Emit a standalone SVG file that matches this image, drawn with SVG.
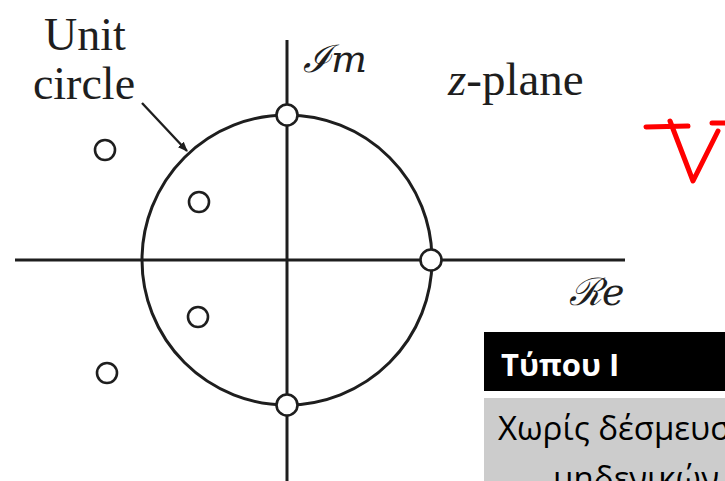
<svg xmlns="http://www.w3.org/2000/svg" width="725" height="481" viewBox="0 0 725 481">
<style>
.ln{stroke:#1e1e1e;stroke-width:3;fill:none}
.z{stroke:#1e1e1e;stroke-width:2.6;fill:#fff}
.lbl{font-family:"Liberation Serif","Times New Roman",serif;fill:#1e1e1e}
.scr{font-family:"DejaVu Serif","Liberation Serif",serif;font-style:italic;fill:#1e1e1e}
.red{stroke:#ff0000;stroke-width:5;fill:none;stroke-linecap:round;stroke-linejoin:round}
.gr{font-family:"Open Sans","Noto Sans",sans-serif}
</style>
<defs>
<marker id="ah" markerWidth="10" markerHeight="10" refX="9" refY="5" orient="auto" markerUnits="userSpaceOnUse" viewBox="0 0 10 10">
<path d="M0,1 L10,5 L0,9 Z" fill="#1e1e1e"/>
</marker>
</defs>
<rect width="725" height="481" fill="#fff"/>
<g id="axes">
<line class="ln" x1="15" y1="260" x2="625" y2="260"/>
<line class="ln" x1="287" y1="40" x2="287" y2="481"/>
</g>
<g id="unit-circle">
<circle class="ln" cx="287" cy="260" r="145" stroke-width="2.6"/>
</g>
<g id="connectors">
<line x1="142" y1="103" x2="187" y2="151" stroke="#1e1e1e" stroke-width="2.4" marker-end="url(#ah)"/>
</g>
<g id="zeros">
<circle class="z" cx="287" cy="115" r="10.5"/>
<circle class="z" cx="287" cy="405" r="10.5"/>
<circle class="z" cx="431" cy="260" r="10.5"/>
<circle class="z" cx="199" cy="202" r="10"/>
<circle class="z" cx="198" cy="317" r="10"/>
<circle class="z" cx="105" cy="150" r="10"/>
<circle class="z" cx="107" cy="373" r="10"/>
</g>
<g id="labels">
<text class="lbl" x="85" y="50" font-size="46" text-anchor="middle">Unit</text>
<text class="lbl" x="84" y="99" font-size="46" text-anchor="middle">circle</text>
<text class="lbl" x="448" y="95" font-size="47"><tspan font-style="italic">z</tspan>-plane</text>
<text class="scr" x="303" y="72" font-size="38">ℐm</text>
<text class="scr" x="569" y="305" font-size="38">ℛe</text>
</g>
<g id="red-mark">
<path class="red" d="M646,127 L688,126"/>
<path class="red" d="M670,121 L693,181 L718,131"/>
<path class="red" d="M712,123 L725,123"/>
</g>
<g id="type-box">
<rect x="484" y="332" width="241" height="59" fill="#000"/>
<text class="gr" x="501" y="376" font-weight="bold" font-size="31" fill="#fff">Τύπου I</text>
</g>
<g id="desc-box">
<rect x="484" y="398" width="241" height="83" fill="#cccccc"/>
<text class="gr" x="498" y="440" font-size="33" fill="#000">Χωρίς δέσμευση</text>
<text class="gr" x="553" y="490" font-size="33" fill="#000">μηδενικών</text>
</g>
</svg>
